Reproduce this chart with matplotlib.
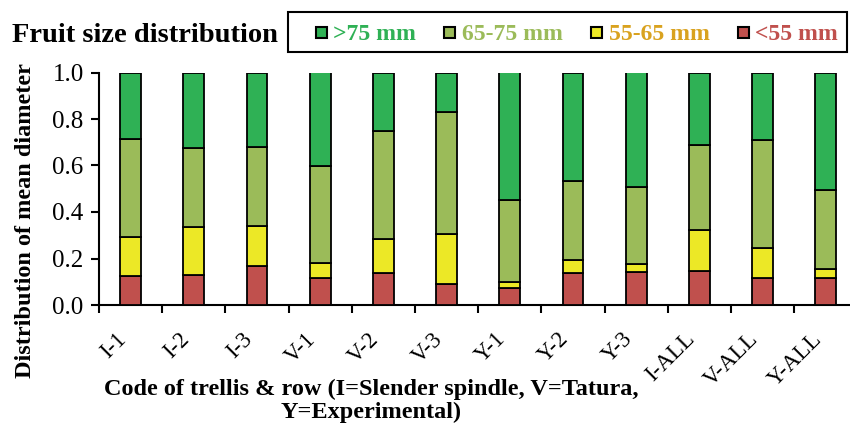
import matplotlib
matplotlib.use("Agg")
import matplotlib.pyplot as plt
from matplotlib.patches import Rectangle
import numpy as np

categories = ["I-1", "I-2", "I-3", "V-1", "V-2", "V-3", "Y-1", "Y-2", "Y-3", "I-ALL", "V-ALL", "Y-ALL"]
lt55 = [0.125, 0.128, 0.168, 0.118, 0.137, 0.089, 0.072, 0.137, 0.141, 0.145, 0.115, 0.117]
s55_65 = [0.168, 0.206, 0.172, 0.062, 0.146, 0.216, 0.027, 0.057, 0.036, 0.179, 0.132, 0.037]
s65_75 = [0.422, 0.341, 0.341, 0.417, 0.467, 0.525, 0.351, 0.341, 0.331, 0.366, 0.464, 0.341]
gt75 = [1 - a - b - c for a, b, c in zip(lt55, s55_65, s65_75)]

series_names = [">75 mm", "65-75 mm", "55-65 mm", "<55 mm"]
bar_colors = {"<55 mm": "#C0504D", "55-65 mm": "#ECE826", "65-75 mm": "#9BBB59", ">75 mm": "#2FB155"}
text_colors = {"<55 mm": "#C0504D", "55-65 mm": "#D9A21F", "65-75 mm": "#9BBB59", ">75 mm": "#2FB155"}

serif = ["Liberation Serif", "DejaVu Serif"]
plt.rcParams["font.family"] = serif

W, H = 850, 428
fig = plt.figure(figsize=(W / 100, H / 100), dpi=100)

ax_left, ax_top, ax_bottom = 99, 72.5, 305
cat_w = 63.2
ax = fig.add_axes([ax_left / W, 1 - ax_bottom / H, 12 * cat_w / W, (ax_bottom - ax_top) / H])

x = np.arange(len(categories))
bottom = np.zeros(len(categories))
stack = [("<55 mm", lt55), ("55-65 mm", s55_65), ("65-75 mm", s65_75), (">75 mm", gt75)]
for name, vals in stack:
    ax.bar(x, vals, width=0.33, bottom=bottom, color=bar_colors[name],
           edgecolor="black", linewidth=1.3, zorder=3)
    bottom = bottom + np.array(vals)

ax.set_xlim(-0.5, len(categories) - 0.5)
ax.set_ylim(0, 1.0)
ax.spines["top"].set_visible(False)
ax.spines["right"].set_visible(False)
for s in ("left", "bottom"):
    ax.spines[s].set_linewidth(1.5)

ax.set_xticks(np.arange(-0.5, len(categories) + 0.5, 1.0))
ax.set_xticklabels([])
ax.set_xticks(x, minor=True)
ax.set_xticklabels(categories, minor=True, rotation=45, ha="right", va="top",
                   fontsize=16.5, rotation_mode="default")
ax.tick_params(axis="x", which="major", direction="out", length=6, width=1.5)
ax.tick_params(axis="x", which="minor", length=0, pad=17)

ax.set_yticks(np.arange(0, 1.01, 0.2))
ax.set_yticklabels([f"{v:.1f}" for v in np.arange(0, 1.01, 0.2)], fontsize=18)
ax.tick_params(axis="y", direction="out", length=6, width=1.5, pad=5)

# Y label
fig.text(26 / W, 1 - 221 / H, "Distribution of mean diameter", rotation=90,
         ha="center", va="center", fontsize=17.5, fontweight="bold")

# X label
fig.text(371 / W, 1 - 401 / H, "Code of trellis & row (I=Slender spindle, V=Tatura,\nY=Experimental)",
         ha="center", va="center", multialignment="center", fontsize=17.5,
         fontweight="bold", linespacing=1.12)

# Title
fig.text(12 / W, 1 - 42 / H, "Fruit size distribution", ha="left", va="baseline",
         fontsize=20.5, fontweight="bold")

# Legend box
fig.add_artist(Rectangle((288 / W, 1 - 52 / H), (847 - 288) / W, (52 - 12) / H,
                         transform=fig.transFigure, facecolor="white",
                         edgecolor="black", linewidth=1.5))
marker_x = [321.5, 449.5, 596.5, 743.5]
text_x = [333, 462, 609, 755]
sq = 11
for name, mx, tx in zip(series_names, marker_x, text_x):
    fig.add_artist(Rectangle(((mx - sq / 2) / W, 1 - (32.5 + sq / 2) / H), sq / W, sq / H,
                             transform=fig.transFigure, facecolor=bar_colors[name],
                             edgecolor="black", linewidth=1.5))
    fig.text(tx / W, 1 - 40 / H, name, ha="left", va="baseline", fontsize=17,
             fontweight="bold", color=text_colors[name])

fig.savefig("out.png", dpi=100)
